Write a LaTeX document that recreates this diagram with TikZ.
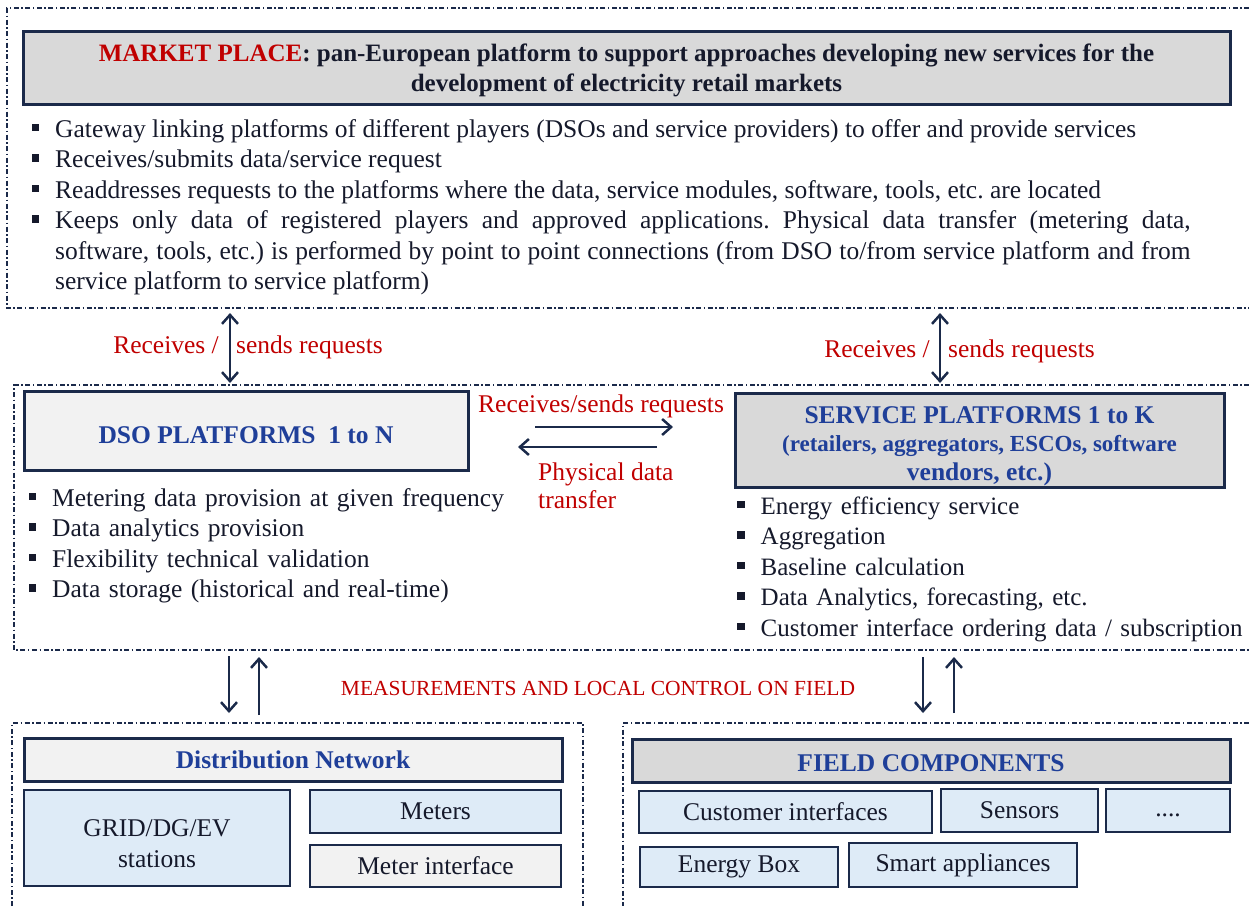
\documentclass[tikz,border=0pt]{standalone}
\usepackage{fontspec}
\setmainfont{Liberation Serif}
\usetikzlibrary{arrows.meta}
\definecolor{navy}{HTML}{1B2A4A}
\definecolor{mred}{HTML}{C00000}
\definecolor{tblue}{HTML}{1F3F99}
\definecolor{lblue}{HTML}{DEEBF7}
\definecolor{gA}{HTML}{D9D9D9}
\definecolor{gB}{HTML}{F2F2F2}
\definecolor{ink}{HTML}{15192B}
\newcommand{\sqb}{\makebox[23.5pt][l]{\rule[6pt]{7.5pt}{7.5pt}}}
\newcommand{\litem}[1]{\par\noindent\hangindent=23.5pt\hangafter=1\relax\sqb\strut#1\par}
\tikzset{
	zone/.style={navy, line width=1.3pt, dash pattern=on 5pt off 2.5pt on 1.5pt off 2.5pt},
	headbox/.style={draw=navy, line width=3pt, fill=gA, align=center, inner sep=0pt},
	subbox/.style={draw=navy, line width=1.5pt, fill=lblue, inner sep=0pt, text=ink, align=center},
	lst/.style={anchor=north west, inner sep=0pt, text=ink},
	redlbl/.style={text=mred, inner sep=0pt},
	dbl/.style={navy, line width=2.5pt, {Straight Barb[length=9pt,width=16pt]}-{Straight Barb[length=9pt,width=16pt]}},
	sgl/.style={navy, line width=2.5pt, -{Straight Barb[length=9pt,width=16pt]}}
}
\frenchspacing
\hyphenpenalty=10000
\exhyphenpenalty=10000
\begin{document}
\begin{tikzpicture}[x=1pt,y=-1pt,font=\fontsize{25.5}{30.5}\selectfont]
	\useasboundingbox (0,0) rectangle (1249,906);
	% zones
	\draw[zone] (1249,8) -- (7,8) -- (7,308) -- (1249,308);
	\draw[zone] (1249,385) -- (14,385) -- (14,650) -- (1249,650);
	\draw[zone] (12,906) -- (12,723) -- (583,723) -- (583,906);
	\draw[zone] (1249,723) -- (623,723) -- (623,906);
	% market place
	\node[headbox, minimum width=1207pt, minimum height=73pt, text=ink, font=\fontsize{25}{30}\selectfont\bfseries] (mp) at (626.5,67.5)
		{\rule{0pt}{24pt}\textcolor{mred}{MARKET PLACE}: pan-European platform to support approaches developing new services for the\\development of electricity retail markets};
	\node[lst, text width=1159pt, align=justify] (mplist) at (31.5,106.6) {%
		\litem{Gateway linking platforms of different players (DSOs and service providers) to offer and provide services}
		\litem{Receives/submits data/service request}
		\litem{Readdresses requests to the platforms where the data, service modules, software, tools, etc. are located}
		\litem{Keeps only data of registered players and approved applications. Physical data transfer (metering data,\linebreak software, tools, etc.) is performed by point to point connections (from DSO to/from service platform and from\linebreak service platform to service platform)}};
	% platforms
	\node[headbox, fill=gB, minimum width=444pt, minimum height=79pt, text=tblue, font=\fontsize{25.5}{30.5}\selectfont\bfseries] (dso) at (246,430.5) {\rule{0pt}{26pt}DSO PLATFORMS~ 1 to N};
	\node[headbox, minimum width=489pt, minimum height=94pt, text=tblue, font=\fontsize{25.5}{28.5}\selectfont\bfseries] (srv) at (979.5,440)
		{\rule{0pt}{29pt}SERVICE PLATFORMS 1 to K\\\fontsize{23}{28.5}\selectfont(retailers, aggregators, ESCOs, software\\vendors, etc.)};
	\node[lst, text width=520pt, align=left] (dsolist) at (28.5,475.6) {%
		\litem{Metering data provision at given frequency}
		\litem{Data analytics provision}
		\litem{Flexibility technical validation}
		\litem{Data storage (historical and real-time)}};
	\node[lst, text width=530pt, align=left, font=\fontsize{25}{30.5}\selectfont] (srvlist) at (737,483.6) {%
		\litem{Energy efficiency service}
		\litem{Aggregation}
		\litem{Baseline calculation}
		\litem{Data Analytics, forecasting, etc.}
		\litem{Customer interface ordering data / subscription}};
	% request labels
	\node[redlbl, anchor=base east] (rqla) at (219,353) {Receives /};
	\node[redlbl, anchor=base west] (rqlb) at (236,353) {sends requests};
	\node[redlbl, anchor=base east] (rqra) at (930,357) {Receives /};
	\node[redlbl, anchor=base west] (rqrb) at (948,357) {sends requests};
	\node[redlbl, anchor=base west] (rqmid) at (478,412) {Receives/sends requests};
	\node[redlbl, anchor=north west, align=left, font=\fontsize{25.5}{28}\selectfont] (phys) at (538,460.4) {\strut Physical data\\transfer};
	\node[redlbl, font=\fontsize{21.5}{25}\selectfont] (meas) at (598,688) {MEASUREMENTS AND LOCAL CONTROL ON FIELD};
	% distribution network
	\node[headbox, fill=gB, minimum width=538pt, minimum height=43pt, text=tblue, font=\fontsize{25.5}{30.5}\selectfont\bfseries] (dn) at (293,759.5) {Distribution Network};
	\node[subbox, minimum width=266pt, minimum height=96pt] (grid) at (157,838) {\rule{0pt}{28pt}GRID/DG/EV\\stations};
	\node[subbox, minimum width=251pt, minimum height=43pt] (meters) at (435.5,811.5) {Meters};
	\node[subbox, fill=gB, minimum width=251pt, minimum height=42pt] (mif) at (435.5,866) {Meter interface};
	% field components
	\node[headbox, minimum width=598pt, minimum height=43pt, text=tblue, font=\fontsize{25.5}{30.5}\selectfont\bfseries] (fc) at (931,760.5) {\rule{0pt}{22pt}FIELD COMPONENTS};
	\node[subbox, minimum width=293pt, minimum height=42pt] (cust) at (785.5,812) {Customer interfaces};
	\node[subbox, minimum width=157pt, minimum height=43pt] (sens) at (1019.5,810.5) {Sensors};
	\node[subbox, minimum width=124pt, minimum height=43pt] (more) at (1168,810.5) {\strut....};
	\node[subbox, minimum width=198pt, minimum height=40pt] (ebox) at (739,867) {Energy Box};
	\node[subbox, minimum width=228pt, minimum height=44pt] (smart) at (963,865) {Smart appliances};
	% connectors
	\coordinate (mpL) at (230,313);
	\coordinate (dsoT) at (230,383);
	\coordinate (mpR) at (940,313);
	\coordinate (srvT) at (940,383);
	\draw[dbl] (mpL) -- (dsoT);
	\draw[dbl] (mpR) -- (srvT);
	\coordinate (reqS) at (535,427);
	\coordinate (reqE) at (673,427);
	\coordinate (datS) at (657,447);
	\coordinate (datE) at (518,447);
	\draw[sgl] (reqS) -- (reqE);
	\draw[sgl] (datS) -- (datE);
	\coordinate (dsoB1) at (229,656);
	\coordinate (dnT1) at (229,713);
	\coordinate (dnT2) at (259,715);
	\coordinate (dsoB2) at (259,657);
	\draw[sgl] (dsoB1) -- (dnT1);
	\draw[sgl] (dnT2) -- (dsoB2);
	\coordinate (srvB1) at (923,657);
	\coordinate (fcT1) at (923,713);
	\coordinate (fcT2) at (954,713);
	\coordinate (srvB2) at (954,657);
	\draw[sgl] (srvB1) -- (fcT1);
	\draw[sgl] (fcT2) -- (srvB2);
\end{tikzpicture}
\end{document}
